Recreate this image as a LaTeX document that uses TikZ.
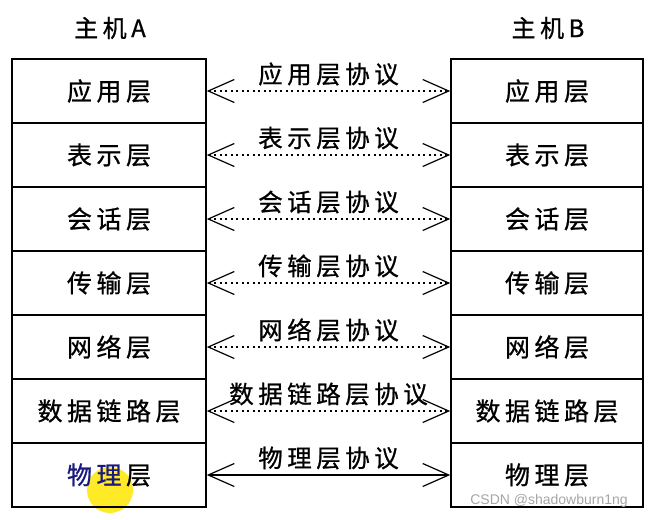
\documentclass[tikz,border=0pt]{standalone}
\usepackage{fontspec}
\newfontfamily\cjk[FakeBold=0.8]{Noto Sans CJK SC}
\setsansfont{Liberation Sans}
\usetikzlibrary{arrows.meta}
\newcommand\gp{\hspace{4.5pt}}
\begin{document}
\begin{tikzpicture}[x=1pt,y=1pt,
  layer/.style={draw=black,line width=1.6pt,minimum width=194pt,minimum height=64pt,inner sep=0pt,font=\cjk\fontsize{25}{25}\selectfont},
  host/.style={font=\cjk\fontsize{24}{24}\selectfont,inner sep=0pt},
  proto/.style={line width=1.3pt,dash pattern=on 2pt off 3.5pt,{Straight Barb[length=26pt,width=23pt,line width=1.2pt]}-{Straight Barb[length=26pt,width=23pt,line width=1.2pt]}},
  protosolid/.style={line width=1.3pt,{Straight Barb[length=26pt,width=23pt,line width=1.2pt]}-{Straight Barb[length=26pt,width=23pt,line width=1.2pt]}},
  lbl/.style={font=\cjk\fontsize{24.5}{24.5}\selectfont,inner sep=0pt,yshift=17pt}]
\useasboundingbox (0,0) rectangle (650,-519);
\fill[white] (0,0) rectangle (650,-519);
\node[host] (hA) at (110,-28) {主\gp 机\gp A};
\node[host] (hB) at (548,-28) {主\gp 机\gp B};
% yellow highlight
\fill[yellow!90!orange,opacity=0.85] (110,-490) circle (23);
\foreach \i/\t in {1/应\gp 用\gp 层,2/表\gp 示\gp 层,3/会\gp 话\gp 层,4/传\gp 输\gp 层,5/网\gp 络\gp 层,6/数\gp 据\gp 链\gp 路\gp 层}{
  \node[layer] (L\i) at (109,{-91-64*(\i-1)}) {\t};
  \node[layer,minimum width=192pt] (R\i) at (547,{-91-64*(\i-1)}) {\t};
}
\node[layer] (L7) at (109,-475) {\textcolor[rgb]{0.1,0.1,0.5}{物\gp 理}\gp 层};
\node[layer,minimum width=192pt] (R7) at (547,-475) {物\gp 理\gp 层};
\draw[proto] (L1.east) -- node[lbl] (p1) {应\gp 用\gp 层\gp 协\gp 议} (R1.west);
\draw[proto] (L2.east) -- node[lbl] (p2) {表\gp 示\gp 层\gp 协\gp 议} (R2.west);
\draw[proto] (L3.east) -- node[lbl] (p3) {会\gp 话\gp 层\gp 协\gp 议} (R3.west);
\draw[proto] (L4.east) -- node[lbl] (p4) {传\gp 输\gp 层\gp 协\gp 议} (R4.west);
\draw[proto] (L5.east) -- node[lbl] (p5) {网\gp 络\gp 层\gp 协\gp 议} (R5.west);
\draw[proto] (L6.east) -- node[lbl] (p6) {数\gp 据\gp 链\gp 路\gp 层\gp 协\gp 议} (R6.west);
\draw[protosolid] (L7.east) -- node[lbl] (p7) {物\gp 理\gp 层\gp 协\gp 议} (R7.west);
\node[font=\sffamily\fontsize{14}{14}\selectfont,text=black!35,inner sep=0pt] (wm) at (549,-501) {CSDN @shadowburn1ng};
\end{tikzpicture}
\end{document}
